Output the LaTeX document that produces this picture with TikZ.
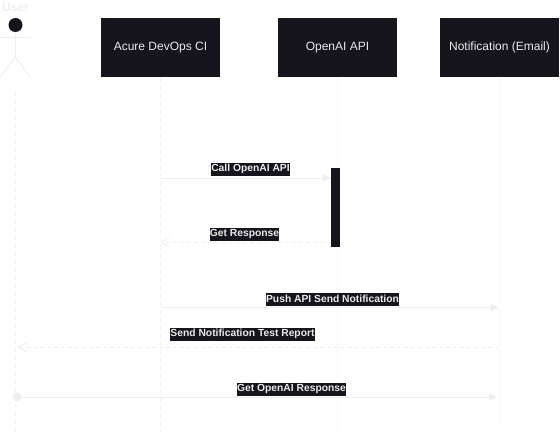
\documentclass[tikz,border=0pt]{standalone}
\usepackage{fontspec}
\setmainfont{Liberation Sans}
\usetikzlibrary{arrows.meta,positioning}
\definecolor{boxdark}{HTML}{16141C}
\definecolor{linelight}{HTML}{EEEEEE}
\definecolor{lifelight}{HTML}{F3F3F3}

\begin{document}
\begin{tikzpicture}[x=1pt,y=-1pt,
  part node/.style={rectangle,fill=boxdark,minimum width=119pt,minimum height=59pt,inner sep=0pt,text=white!92!black,font=\fontsize{12}{14}\selectfont},
  msg node/.style={rectangle,fill=boxdark,inner sep=0pt,minimum height=13pt,text=white!92!black,font=\fontsize{10.3}{13}\selectfont\bfseries},
  life line/.style={lifelight,dash pattern=on 4pt off 4pt,line width=1pt},
  call line/.style={linelight,line width=1pt,-{Triangle[length=8pt,width=7pt]}},
  back line/.style={linelight,line width=1pt,dash pattern=on 4pt off 3pt,-{Straight Barb[length=8pt,width=10pt]}},
  actor line/.style={linelight,line width=1pt}]

  \useasboundingbox (0,0) rectangle (560,439);

  % participants
  \node[part node] (ci) at (160.5,47.5) {Acure DevOps CI};
  \node[part node] (api) at (337.5,47.5) {OpenAI API};
  \node[part node] (mail) at (499.5,47.5) {Notification (Email)};

  % actor
  \node[font=\fontsize{12}{14}\selectfont\bfseries,text=linelight,inner sep=0pt] (user) at (15.5,7) {User};
  \node[circle,fill=boxdark,minimum size=14pt,inner sep=0pt] (head) at (15.5,25) {};
  \coordinate (armL) at (0,37);
  \coordinate (armR) at (30.5,37);
  \coordinate (hip) at (15.5,57);
  \coordinate (footL) at (0,77);
  \coordinate (footR) at (30.5,77);
  \draw[actor line] (head) -- (hip);
  \draw[actor line] (armL) -- (armR);
  \draw[actor line] (footL) -- (hip) -- (footR);

  % life lines
  \coordinate (userTop) at (15.5,92);
  \coordinate (userEnd) at (15.5,437);
  \coordinate (ciEnd) at (160.5,435);
  \coordinate (apiEnd) at (337.5,435);
  \coordinate (mailEnd) at (499.5,428);
  \draw[life line] (userTop) -- (userEnd);
  \draw[life line] (ci) -- (ciEnd);
  \draw[life line] (api) -- (apiEnd);
  \draw[life line] (mail) -- (mailEnd);

  % message ends
  \coordinate (c1) at (160.5,178);
  \coordinate (a1) at (331,178);
  \coordinate (a2) at (331,242);
  \coordinate (c2) at (160.5,242);
  \coordinate (c3) at (160.5,307.5);
  \coordinate (m3) at (499,307.5);
  \coordinate (m4) at (499,347);
  \coordinate (u4) at (18,347);
  \coordinate (m5) at (497,397);
  \node[circle,fill=linelight,minimum size=9pt,inner sep=0pt] (start) at (17,397) {};

  \draw[call line] (c1) -- (a1);
  \draw[back line] (a2) -- (c2);
  \draw[call line] (c3) -- (m3);
  \draw[back line] (m4) -- (u4);
  \draw[call line] (start) -- (m5);

  % activation drawn over the life line
  \node[rectangle,fill=boxdark,minimum width=9pt,minimum height=79pt,inner sep=0pt] (act) at (335.5,207.5) {};

  % labels
  \node[msg node] (l1) at (250.5,169) {Call OpenAI API};
  \node[msg node] (l2) at (244.5,234) {Get Response};
  \node[msg node] (l3) at (332.5,299) {Push API Send Notification};
  \node[msg node] (l4) at (242.5,334) {Send Notification Test Report};
  \node[msg node] (l5) at (291.5,389) {Get OpenAI Response};

\end{tikzpicture}
\end{document}
